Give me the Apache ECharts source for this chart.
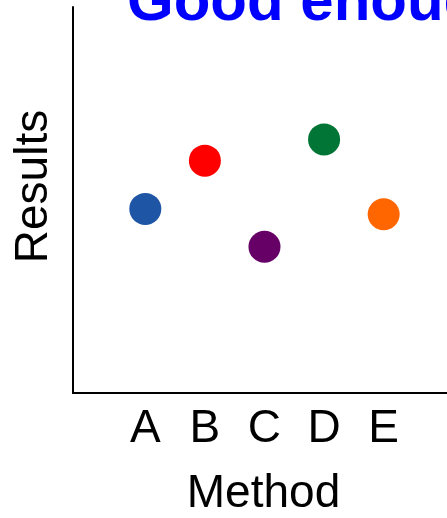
<!DOCTYPE html>
<html>
<head>
<meta charset="utf-8">
<script src="https://cdn.jsdelivr.net/npm/echarts@6/dist/echarts.min.js"></script>
<style>
  html, body { margin: 0; padding: 0; background: #fff; }
  #chart { width: 447px; height: 518px; }
</style>
</head>
<body>
<div id="chart"></div>
<script>
const titleText = 'Good enough';
const categories = ['A', 'B', 'C', 'D', 'E'];
const results = [4.77, 6.02, 3.79, 6.57, 4.63];
const xAxisName = 'Method';
const yAxisName = 'Results';
const pointColors = ['#1F55A5', '#FF0000', '#660066', '#007535', '#FF6600'];

const FONT = '"Liberation Sans", Arial, Helvetica, sans-serif';
const chart = echarts.init(document.getElementById('chart'), null, { renderer: 'canvas' });

const seriesData = results.map((v, i) => ({
  value: [i, v],
  itemStyle: { color: pointColors[i], opacity: 1 }
}));

chart.setOption({
  animation: false,
  backgroundColor: '#ffffff',
  title: {
    text: titleText,
    left: 127,
    top: -27,
    padding: 0,
    textStyle: { color: '#0000FF', fontSize: 60, fontWeight: 'bold', fontFamily: FONT }
  },
  grid: { left: 73, right: -7, top: 7, bottom: 125, containLabel: false, outerBoundsMode: 'none' },
  xAxis: {
    type: 'value',
    min: -1.213,
    max: 5.18,
    name: xAxisName,
    nameLocation: 'middle',
    nameGap: 78,
    nameTextStyle: { color: '#000', fontSize: 46, fontFamily: FONT },
    axisLine: { show: true, onZero: false, lineStyle: { color: '#000', width: 2 } },
    axisTick: { show: false },
    splitLine: { show: false },
    axisLabel: {
      customValues: categories.map((c, i) => i),
      formatter: (v) => categories[Math.round(v)] || '',
      color: '#000',
      fontSize: 46,
      fontFamily: FONT,
      margin: 13
    }
  },
  yAxis: {
    type: 'value',
    min: 0,
    max: 10,
    name: yAxisName,
    nameLocation: 'middle',
    nameGap: 16,
    nameTextStyle: { color: '#000', fontSize: 46, fontFamily: FONT, padding: [0, 0, 0, 27] },
    axisLine: { show: true, onZero: false, lineStyle: { color: '#000', width: 2 } },
    axisTick: { show: false },
    axisLabel: { show: false },
    splitLine: { show: false }
  },
  series: [{
    type: 'scatter',
    symbol: 'circle',
    symbolSize: 32,
    itemStyle: { opacity: 1 },
    data: seriesData
  }]
});
</script>
</body>
</html>
